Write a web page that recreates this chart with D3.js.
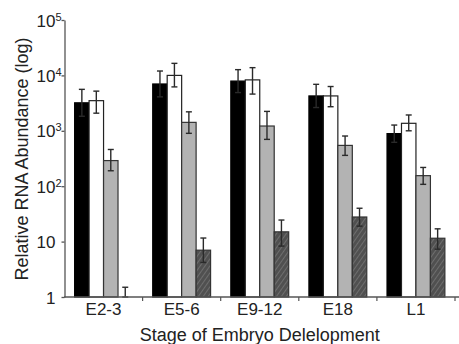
<!DOCTYPE html>
<html><head><meta charset="utf-8">
<script src="https://cdn.jsdelivr.net/npm/d3@7"></script>
<style>
body{margin:0;background:#fff;}
svg{display:block;font-family:"Liberation Sans",Arial,sans-serif;}
</style></head>
<body><svg id="c" width="459" height="344"></svg>
<script>
const categories = ["E2-3","E5-6","E9-12","E18","L1"];
const seriesNames = ["black","white","gray","hatched"];
const blackVals = [3200, 7000, 7900, 4260, 890];
const blackHi   = [5600, 12000, 12700, 6900, 1270];
const blackLo   = [1830, 4100, 4900, 2630, 620];
const whiteVals = [3500, 10000, 8300, 4260, 1365];
const whiteHi   = [5200, 16500, 13800, 6300, 1930];
const whiteLo   = [2080, 6200, 4600, 2720, 1000];
const grayVals  = [290, 1420, 1220, 545, 155];
const grayHi    = [460, 2200, 2240, 805, 218];
const grayLo    = [190, 900, 700, 360, 108];
const hatchVals = [1, 7.0, 15, 27.8, 11.5];
const hatchHi   = [1.5, 11.6, 24.5, 40, 17];
const hatchLo   = [1, 4.2, 8.3, 19, 7.3];
const yTicks = [1, 10, 100, 1000, 10000, 100000];
const yTickBase = ["1","10","10","10","10","10"];
const yTickExp  = ["","","2","3","4","5"];
const yTitle = "Relative RNA Abundance (log)";
const xTitle = "Stage of Embryo Delelopment";

(function(){
const series = [
  {name:"black", vals:blackVals, hi:blackHi, lo:blackLo},
  {name:"white", vals:whiteVals, hi:whiteHi, lo:whiteLo},
  {name:"gray", vals:grayVals, hi:grayHi, lo:grayLo},
  {name:"hatched", vals:hatchVals, hi:hatchHi, lo:hatchLo}
];
const fills = {black:"#000", white:"#fff", gray:"#b3b3b3", hatched:"url(#hatch)"};
const strokes = {black:"#000", white:"#222", gray:"#333", hatched:"#333"};

const svg = d3.select("#c");
const defs = svg.append("defs");
const pat = defs.append("pattern").attr("id","hatch").attr("patternUnits","userSpaceOnUse")
  .attr("width",4).attr("height",4).attr("patternTransform","rotate(35)");
pat.append("rect").attr("width",4).attr("height",4).attr("fill","#505050");
pat.append("line").attr("x1",0).attr("y1",0).attr("x2",0).attr("y2",4)
  .attr("stroke","#8c8c8c").attr("stroke-width",1);

const mLeft = 64.5, mRight = 455, mTop = 20, mBottom = 297;
const y = d3.scaleLog().domain([1, 100000]).range([mBottom, mTop]);
const x0 = d3.scaleBand().domain(categories).range([mLeft, mRight]).padding(0);
const x1 = d3.scaleBand().domain(seriesNames).range([0, x0.bandwidth()]).paddingInner(0).paddingOuter(0.7);

series.forEach(s => {
  const g = svg.append("g");
  categories.forEach((c,i) => {
    const v = s.vals[i];
    const bx = x0(c) + x1(s.name);
    if (y(v) < mBottom - 0.5) {
      g.append("rect").attr("x", bx).attr("y", y(v))
        .attr("width", x1.bandwidth()).attr("height", mBottom - y(v))
        .attr("fill", fills[s.name]).attr("stroke", strokes[s.name]).attr("stroke-width",1.2);
    }
  });
});
series.forEach(s => {
  const g = svg.append("g").attr("stroke","#2a2a2a").attr("stroke-width",1.4).attr("fill","none");
  categories.forEach((c,i) => {
    const cx = x0(c) + x1(s.name) + x1.bandwidth()/2;
    const yh = y(s.hi[i]), yl = y(s.lo[i]);
    g.append("line").attr("x1",cx).attr("x2",cx).attr("y1",yh).attr("y2",yl);
    g.append("line").attr("x1",cx-3).attr("x2",cx+3).attr("y1",yh).attr("y2",yh);
    g.append("line").attr("x1",cx-3).attr("x2",cx+3).attr("y1",yl).attr("y2",yl);
  });
});

const ya = svg.append("g").attr("transform",`translate(${mLeft},0)`)
  .call(d3.axisLeft(y).tickValues(yTicks).tickSize(3).tickSizeOuter(0).tickFormat(""));
ya.select(".domain").attr("stroke","#555").attr("stroke-width",1.3);
ya.selectAll(".tick line").attr("stroke","#555").attr("stroke-width",1.3);
ya.selectAll(".tick").each(function(d,i){
  const t = d3.select(this).append("text").attr("x",-9).attr("dy","0.36em")
    .attr("fill","#222").attr("font-size",17).attr("text-anchor","end");
  t.append("tspan").text(yTickBase[i]);
  if (yTickExp[i]) {
    t.attr("x",-3);
    t.append("tspan").text(yTickExp[i]).attr("font-size",11).attr("dy","-0.55em");
  }
});

const xa = svg.append("g").attr("transform",`translate(0,${mBottom})`);
xa.append("line").attr("x1",mLeft-0.5).attr("x2",459).attr("y1",0).attr("y2",0)
  .attr("stroke","#555").attr("stroke-width",1.3);
categories.forEach((c,i) => {
  if (i>0) xa.append("line").attr("x1",x0(c)).attr("x2",x0(c)).attr("y1",0).attr("y2",4)
    .attr("stroke","#555").attr("stroke-width",1.2);
  xa.append("text").attr("x", x0(c)+x0.bandwidth()/2).attr("y",18)
    .attr("text-anchor","middle").attr("font-size",17).attr("fill","#222").text(c);
});
xa.append("line").attr("x1",mRight).attr("x2",mRight).attr("y1",0).attr("y2",4)
  .attr("stroke","#555").attr("stroke-width",1.2);

svg.append("text").attr("x",(mLeft+mRight)/2).attr("y",341).attr("text-anchor","middle")
  .attr("font-size",18).attr("fill","#222").text(xTitle);
svg.append("text").attr("transform","translate(28,159) rotate(-90)").attr("text-anchor","middle")
  .attr("font-size",18).attr("fill","#222").text(yTitle);
})();
</script></body></html>
